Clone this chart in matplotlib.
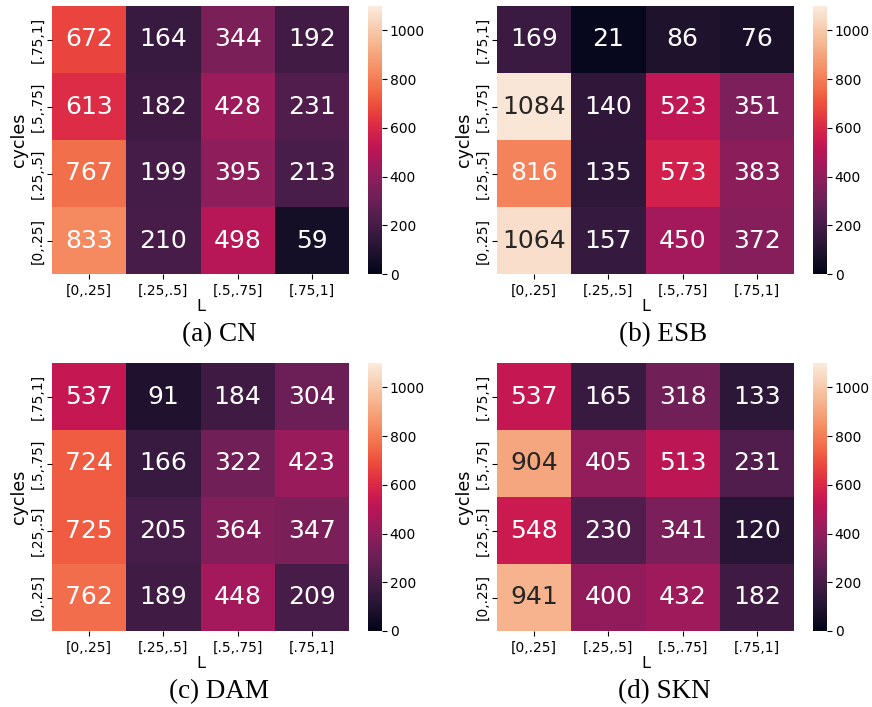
import numpy as np
import matplotlib
matplotlib.use("Agg")
import matplotlib.pyplot as plt
import seaborn as sns

bins = ["[0,.25]", "[.25,.5]", "[.5,.75]", "[.75,1]"]
row_labels = ["[.75,1]", "[.5,.75]", "[.25,.5]", "[0,.25]"]  # top to bottom

cn = [[672, 164, 344, 192],
      [613, 182, 428, 231],
      [767, 199, 395, 213],
      [833, 210, 498, 59]]
esb = [[169, 21, 86, 76],
       [1084, 140, 523, 351],
       [816, 135, 573, 383],
       [1064, 157, 450, 372]]
dam = [[537, 91, 184, 304],
       [724, 166, 322, 423],
       [725, 205, 364, 347],
       [762, 189, 448, 209]]
skn = [[537, 165, 318, 133],
       [904, 405, 513, 231],
       [548, 230, 341, 120],
       [941, 400, 432, 182]]

captions = ["(a) CN", "(b) ESB", "(c) DAM", "(d) SKN"]
datasets = [cn, esb, dam, skn]
vmin, vmax = 0, 1100

W, H = 872, 707
fig = plt.figure(figsize=(W / 100, H / 100), dpi=100)

def ax_px(x0, y0, x1, y1):
    return fig.add_axes([x0 / W, 1 - y1 / H, (x1 - x0) / W, (y1 - y0) / H])

# pixel boxes: heatmap, colorbar, caption center
layout = [
    ((52, 6, 349, 274), (368, 6, 382, 274), (219, 335)),
    ((497, 6, 794, 274), (813, 6, 827, 274), (663, 335)),
    ((52, 363, 349, 631), (368, 363, 382, 631), (219, 692)),
    ((497, 363, 794, 631), (813, 363, 827, 631), (664, 692)),
]

for data, cap, (hb, cb, cc) in zip(datasets, captions, layout):
    ax = ax_px(*hb)
    cax = ax_px(*cb)
    sns.heatmap(np.array(data), ax=ax, cbar_ax=cax, cmap="rocket",
                vmin=vmin, vmax=vmax, annot=True, fmt="d",
                annot_kws={"fontsize": 18},
                xticklabels=bins, yticklabels=row_labels)
    ax.set_xlabel("L", fontsize=11.5, labelpad=1)
    ax.set_ylabel("cycles", fontsize=12.5, labelpad=2)
    ax.tick_params(axis="both", labelsize=10)
    ax.tick_params(axis="y", pad=2)
    ax.set_yticklabels(row_labels, rotation=90, va="center", fontsize=10)
    ax.set_xticklabels(bins, rotation=0, fontsize=10)
    cax.set_yticks([0, 200, 400, 600, 800, 1000])
    cax.tick_params(labelsize=10, pad=2)
    fig.text(cc[0] / W, 1 - cc[1] / H, cap, ha="center", va="center",
             fontsize=19.5, family="Liberation Serif")

fig.savefig("out.png", dpi=100)
